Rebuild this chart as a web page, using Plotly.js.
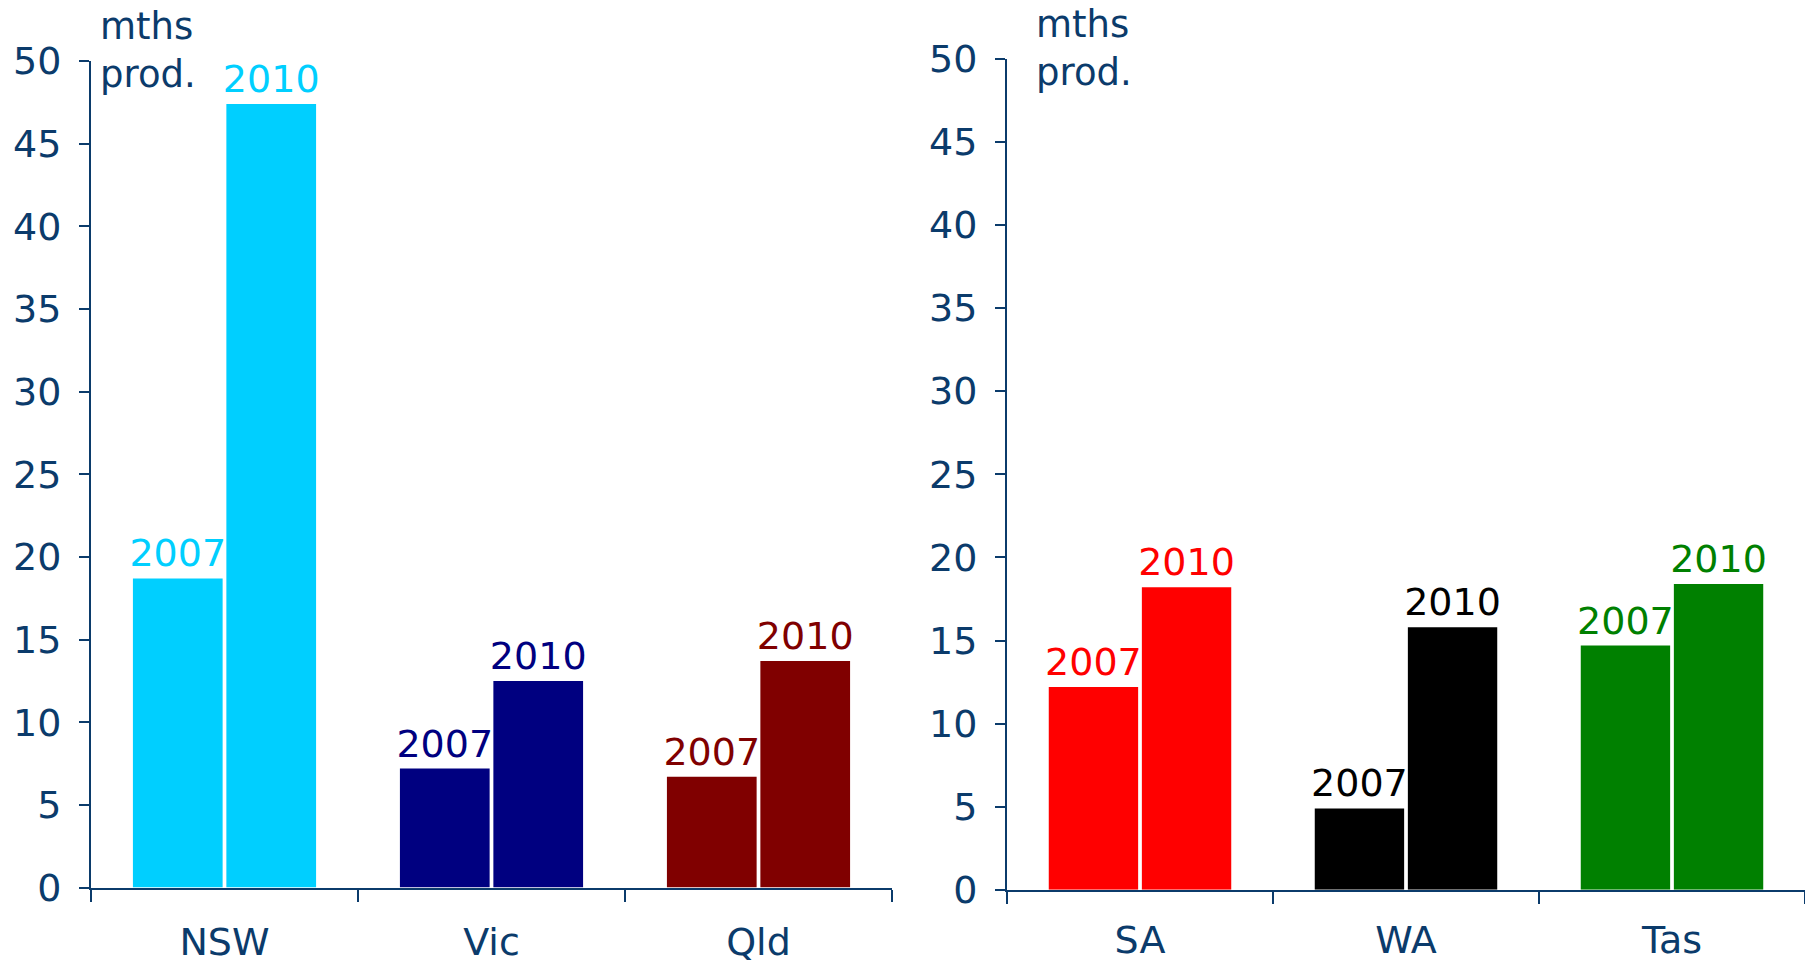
<!DOCTYPE html>
<html>
<head>
<meta charset="utf-8">
<script src="https://cdn.plot.ly/plotly-3.0.1.min.js"></script>
<style>
  html, body { margin: 0; padding: 0; background: #ffffff; }
  #chart { width: 1805px; height: 964px; }
</style>
</head>
<body>
<div id="chart"></div>
<script>
// ---- Data (months of production) ----
const leftCategories = ["NSW", "Vic", "Qld"];
const left2007 = [18.7, 7.2, 6.7];
const left2010 = [47.4, 12.5, 13.7];

const rightCategories = ["SA", "WA", "Tas"];
const right2007 = [12.2, 4.9, 14.7];
const right2010 = [18.2, 15.8, 18.4];

const yearLabels = ["2007", "2010"];
const yTickValues = [0, 5, 10, 15, 20, 25, 30, 35, 40, 45, 50];

// ---- Styles ----
const leftColors = ["#00cfff", "#000080", "#800000"];
const rightColors = ["#ff0000", "#000000", "#008000"];
const axisColor = "#0b3b6b";
const fontFamily = "DejaVu Sans, Verdana, sans-serif";
const fontSize = 38;

function barTrace(cats, vals, label, colors, xa, ya) {
  return {
    type: "bar",
    x: cats,
    y: vals,
    xaxis: xa,
    yaxis: ya,
    name: label,
    text: cats.map(() => label),
    textposition: "outside",
    constraintext: "none",
    cliponaxis: false,
    textfont: { family: fontFamily, size: fontSize, color: colors },
    marker: { color: colors, line: { width: 0 } },
    hoverinfo: "x+y",
    showlegend: false
  };
}

const data = [
  barTrace(leftCategories, left2007, yearLabels[0], leftColors, "x", "y"),
  barTrace(leftCategories, left2010, yearLabels[1], leftColors, "x", "y"),
  barTrace(rightCategories, right2007, yearLabels[0], rightColors, "x2", "y2"),
  barTrace(rightCategories, right2010, yearLabels[1], rightColors, "x2", "y2")
];

function xAxis(domain, anchor, standoff) {
  return {
    domain: domain,
    anchor: anchor,
    type: "category",
    tickson: "boundaries",
    ticks: "outside",
    ticklen: 12,
    tickwidth: 2,
    tickcolor: axisColor,
    showline: true,
    linecolor: axisColor,
    linewidth: 2,
    showgrid: false,
    zeroline: false,
    ticklabelstandoff: standoff,
    tickfont: { family: fontFamily, size: fontSize, color: axisColor },
    fixedrange: true
  };
}

function yAxis(domain, anchor) {
  return {
    domain: domain,
    anchor: anchor,
    range: [0, 50],
    tickmode: "array",
    tickvals: yTickValues,
    ticktext: yTickValues.map(String),
    ticks: "outside",
    ticklen: 10,
    tickwidth: 2,
    tickcolor: axisColor,
    showline: true,
    linecolor: axisColor,
    linewidth: 2,
    showgrid: false,
    zeroline: false,
    ticklabelstandoff: 10,
    tickfont: { family: fontFamily, size: fontSize, color: axisColor },
    fixedrange: true
  };
}

const layout = {
  width: 1805,
  height: 964,
  margin: { l: 0, r: 0, t: 0, b: 0 },
  paper_bgcolor: "#ffffff",
  plot_bgcolor: "#ffffff",
  bargap: 0.30,
  bargroupgap: 0.04,
  barmode: "group",
  showlegend: false,
  font: { family: fontFamily, size: fontSize, color: axisColor },
  xaxis: xAxis([91 / 1805, 892 / 1805], "y", 20),
  yaxis: yAxis([0.0793, 0.9367], "x"),
  xaxis2: xAxis([1007 / 1805, 1.0], "y2", 16),
  yaxis2: yAxis([0.0769, 0.9391], "x2"),
  annotations: [
    {
      xref: "paper", yref: "paper",
      x: 98 / 1805, y: 0.997,
      xanchor: "left", yanchor: "top",
      align: "left",
      showarrow: false,
      text: "mths<br>prod.",
      font: { family: fontFamily, size: 37, color: axisColor }
    },
    {
      xref: "paper", yref: "paper",
      x: 1034 / 1805, y: 0.999,
      xanchor: "left", yanchor: "top",
      align: "left",
      showarrow: false,
      text: "mths<br>prod.",
      font: { family: fontFamily, size: 37, color: axisColor }
    }
  ]
};

Plotly.newPlot("chart", data, layout, { displayModeBar: false, staticPlot: true });
</script>
</body>
</html>
